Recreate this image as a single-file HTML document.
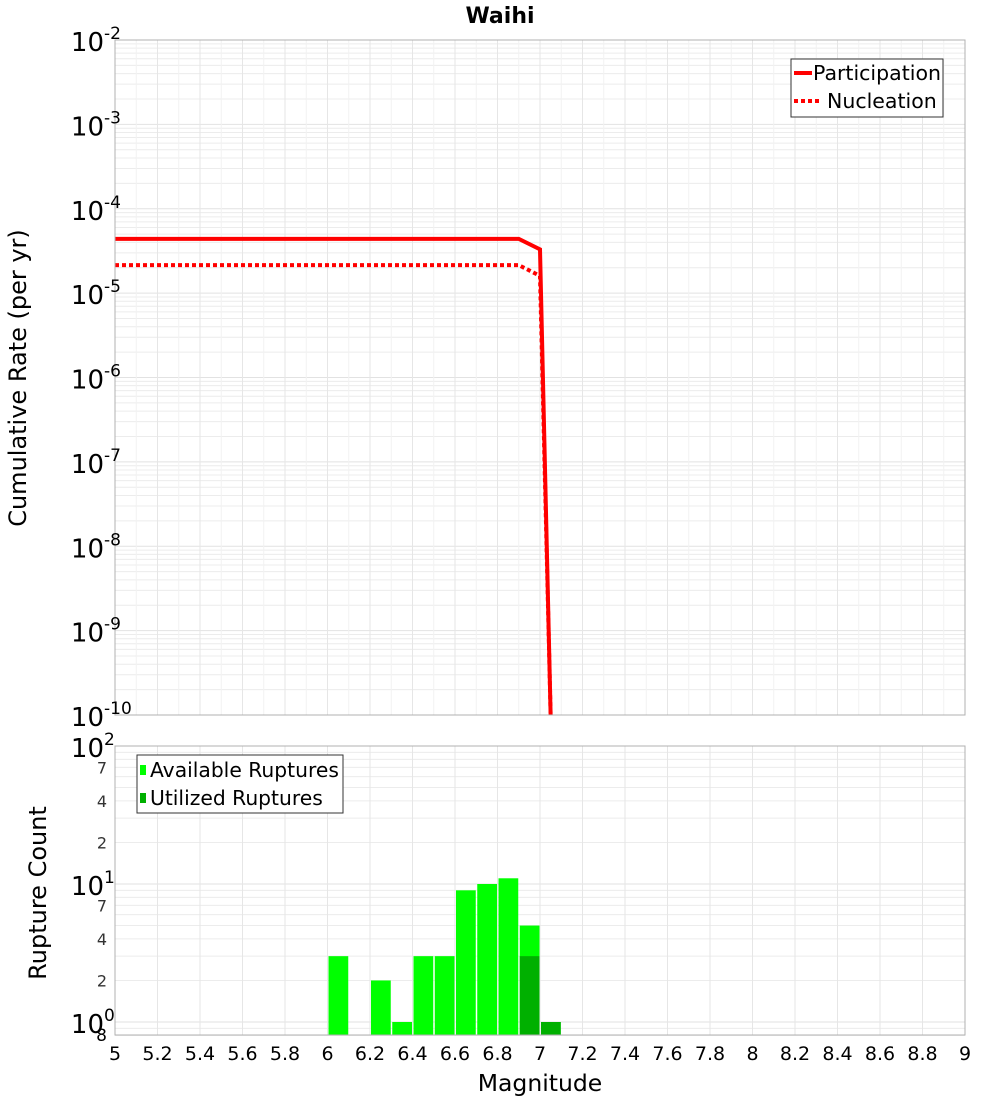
<!DOCTYPE html>
<html><head><meta charset="utf-8"><style>
body{margin:0;background:#fff;}
svg{display:block;font-family:"DejaVu Sans","Liberation Sans",sans-serif;}
</style></head><body>
<svg id="c" width="1000" height="1100" xmlns="http://www.w3.org/2000/svg">
<text x="500" y="23" text-anchor="middle" font-size="22" font-weight="bold">Waihi</text>
<text transform="translate(26,378) rotate(-90)" text-anchor="middle" font-size="24">Cumulative Rate (per yr)</text>
<text transform="translate(46,893) rotate(-90)" text-anchor="middle" font-size="24">Rupture Count</text>
<text x="540" y="1091" text-anchor="middle" font-size="23.5">Magnitude</text>
<g id="g"></g>
</svg>
<script>
const partMags=[5,6.9,7.0,7.05];
const partRates=[4.4e-5,4.4e-5,3.3e-5,1e-10];
const nuclMags=[5,6.9,7.0,7.05];
const nuclRates=[2.15e-5,2.15e-5,1.6e-5,1e-10];
const binCenters=[6.05,6.25,6.35,6.45,6.55,6.65,6.75,6.85,6.95,7.05];
const availCounts=[3,2,1,3,3,9,10,11,5,1];
const utilCounts=[0,0,0,0,0,0,0,0,3,1];
const xTicks=[5,5.2,5.4,5.6,5.8,6,6.2,6.4,6.6,6.8,7,7.2,7.4,7.6,7.8,8,8.2,8.4,8.6,8.8,9];
const topExps=[-2,-3,-4,-5,-6,-7,-8,-9,-10];
const botTicks=[7,4,2,70,40,20];

const NS="http://www.w3.org/2000/svg";
const g=document.getElementById('g');
function el(t,a,p){const e=document.createElementNS(NS,t);for(const k in a)e.setAttribute(k,a[k]);(p||g).appendChild(e);return e;}
const L=115,R=965,T1=40,B1=715,T2=746,B2=1035;
const X=m=>L+(m-5)/4*(R-L);
const Y1=v=>T1+(-2-Math.log10(v))*(B1-T1)/8;
const Y2=v=>T2+(2-Math.log10(v))*138;

el('rect',{x:L,y:T1,width:R-L,height:B1-T1,fill:'#fff'});
for(let e=-10;e<-2;e++)for(let k=2;k<10;k++){const y=Y1(k*Math.pow(10,e));el('line',{x1:L,x2:R,y1:y,y2:y,stroke:'#ececec','stroke-width':1});}
topExps.forEach(e=>{const y=Y1(Math.pow(10,e));el('line',{x1:L,x2:R,y1:y,y2:y,stroke:'#e2e2e2'});});
for(let i=0;i<=40;i++){const x=X(5+i*0.1);el('line',{x1:x,x2:x,y1:T1,y2:B1,stroke:i%2?'#f2f2f2':'#e6e6e6'});}
const clip=el('clipPath',{id:'cp1'});el('rect',{x:L,y:T1,width:R-L,height:B1-T1},clip);
const pp=el('polyline',{points:partMags.map((m,i)=>X(m)+','+Y1(partRates[i])).join(' '),fill:'none',stroke:'#ff0000','stroke-width':4,'clip-path':'url(#cp1)'});

const np=el('polyline',{points:nuclMags.map((m,i)=>X(m)+','+Y1(nuclRates[i])).join(' '),fill:'none',stroke:'#ff0000','stroke-width':4,'stroke-dasharray':'4 3','clip-path':'url(#cp1)'});

el('rect',{x:L,y:T1,width:R-L,height:B1-T1,fill:'none',stroke:'#b0b0b0'});
topExps.forEach(e=>{const y=Y1(Math.pow(10,e));const t=el('text',{x:104,y:y+11,'text-anchor':'end','font-size':26});t.textContent='10';
const s=el('text',{x:104,y:y-1,'font-size':17});s.textContent=e;
});
const lg=el('g',{});
el('rect',{x:791,y:59,width:152,height:58,fill:'#fff',stroke:'#333'},lg);
el('line',{x1:794,x2:812,y1:73,y2:73,stroke:'#f00','stroke-width':4},lg);
el('line',{x1:794,x2:821,y1:101,y2:101,stroke:'#f00','stroke-width':4,'stroke-dasharray':'4 3'},lg);
let t=el('text',{x:813,y:80,'font-size':20.5},lg);t.textContent='Participation';
t=el('text',{x:827,y:108,'font-size':20.5},lg);t.textContent='Nucleation';

el('rect',{x:L,y:T2,width:R-L,height:B2-T2,fill:'#fff'});
[0.8,0.9].concat([2,3,4,5,6,7,8,9,20,30,40,50,60,70,80,90]).forEach(v=>{const y=Y2(v);el('line',{x1:L,x2:R,y1:y,y2:y,stroke:'#ececec'});});
[1,10].forEach(v=>{const y=Y2(v);el('line',{x1:L,x2:R,y1:y,y2:y,stroke:'#e2e2e2'});});
for(let i=0;i<=20;i++){const x=X(5+i*0.2);el('line',{x1:x,x2:x,y1:T2,y2:B2,stroke:'#e6e6e6'});}
binCenters.forEach((c,i)=>{const x0=X(c-0.05)+1,w=X(c+0.05)-X(c-0.05)-1.5;
if(availCounts[i]>0){const r=el('rect',{x:x0,y:Y2(availCounts[i]),width:w,height:B2-Y2(availCounts[i]),fill:'#00ff00'});
}
if(utilCounts[i]>0){const r=el('rect',{x:x0,y:Y2(utilCounts[i]),width:w,height:B2-Y2(utilCounts[i]),fill:'#00b000'});
}});
el('rect',{x:L,y:T2,width:R-L,height:B2-T2,fill:'none',stroke:'#b0b0b0'});
[[100,'2'],[10,'1'],[1,'0']].forEach(([v,e])=>{const y=Y2(v);const tt=el('text',{x:104,y:y+11,'text-anchor':'end','font-size':26});tt.textContent='10';

const s=el('text',{x:104,y:y-1,'font-size':17});s.textContent=e;});
botTicks.forEach(v=>{const y=Y2(v);const tt=el('text',{x:107,y:y+6,'text-anchor':'end','font-size':16,fill:'#333'});tt.textContent=String(v).charAt(0);
});
t=el('text',{x:107,y:1041,'text-anchor':'end','font-size':17});t.textContent='8';
const lg2=el('g',{});
el('rect',{x:137,y:755,width:206,height:58,fill:'#fff',stroke:'#333'},lg2);
el('rect',{x:140,y:765,width:6,height:10,fill:'#00ff00'},lg2);
el('rect',{x:140,y:793,width:6,height:10,fill:'#00b000'},lg2);
t=el('text',{x:150,y:777,'font-size':20.3},lg2);t.textContent='Available Ruptures';
t=el('text',{x:150,y:805,'font-size':20.3},lg2);t.textContent='Utilized Ruptures';
xTicks.forEach(v=>{const x=X(v);const tt=el('text',{x:x,y:1060,'text-anchor':'middle','font-size':19});tt.textContent=String(v);
});
</script>
</body></html>
